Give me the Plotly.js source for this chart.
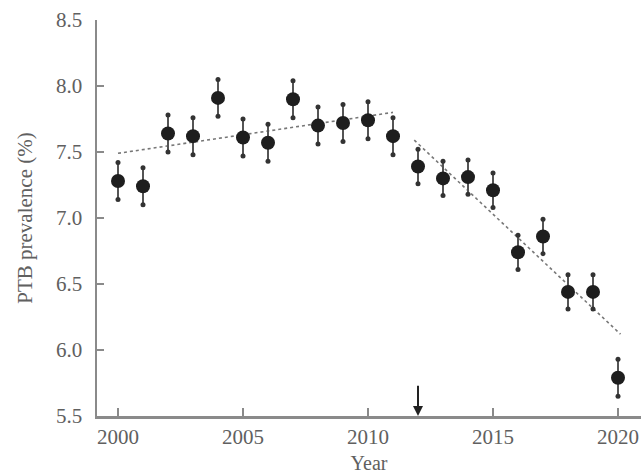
<!DOCTYPE html>
<html>
<head>
<meta charset="utf-8">
<script src="https://cdn.plot.ly/plotly-3.0.1.min.js"></script>
<style>html,body{margin:0;padding:0;background:#fff;}#chart{width:643px;height:475px;}</style>
</head>
<body>
<div id="chart"></div>
<script>
var years = [2000,2001,2002,2003,2004,2005,2006,2007,2008,2009,2010,2011,2012,2013,2014,2015,2016,2017,2018,2019,2020];
var prevalence = [7.28,7.24,7.64,7.62,7.91,7.61,7.57,7.90,7.70,7.72,7.74,7.62,7.39,7.30,7.31,7.21,6.74,6.86,6.44,6.44,5.79];
var errors = [0.14,0.14,0.14,0.14,0.14,0.14,0.14,0.14,0.14,0.14,0.14,0.14,0.13,0.13,0.13,0.13,0.13,0.13,0.13,0.13,0.14];
var trend1Years = [2000, 2011];
var trend1Values = [7.49, 7.80];
var trend2Years = [2011.85, 2020.1];
var trend2Values = [7.59, 6.12];
var breakpointYear = 2012;
var arrowTop = 5.74;
var xTicks = [2000,2005,2010,2015,2020];
var yTicks = [5.5,6.0,6.5,7.0,7.5,8.0,8.5];

var upper = prevalence.map(function(v,i){return v+errors[i];});
var lower = prevalence.map(function(v,i){return v-errors[i];});

var serif = 'Liberation Serif, Times New Roman, serif';
var textColor = '#606060';
var axisColor = '#8a8a8a';

var traces = [
  {x: trend1Years, y: trend1Values, mode:'lines', line:{color:'#777', width:1.6, dash:'dot'}, hoverinfo:'skip'},
  {x: trend2Years, y: trend2Values, mode:'lines', line:{color:'#777', width:1.6, dash:'dot'}, hoverinfo:'skip'},
  {x: years, y: prevalence, mode:'markers', marker:{color:'#1e1e1e', size:14},
   error_y:{type:'data', array: errors, visible:true, color:'#555', thickness:2, width:0}},
  {x: years.concat(years), y: upper.concat(lower), mode:'markers', marker:{color:'#333', size:5}, hoverinfo:'skip'}
];

var layout = {
  width: 643, height: 475,
  margin: {l:97, r:2, t:20, b:59},
  paper_bgcolor:'#fff', plot_bgcolor:'#fff',
  showlegend:false,
  font:{family: serif, color: textColor, size:20},
  xaxis:{
    range:[1999.16, 2020.92], tickvals: xTicks, ticktext: xTicks.map(String),
    ticks:'inside', ticklen:8, tickwidth:1.5, tickcolor: axisColor,
    showline:true, linecolor: axisColor, linewidth:2.5, showgrid:false, zeroline:false,
    tickfont:{family: serif, size:21, color:textColor},
    title:{text:'Year', font:{family: serif, size:20, color:textColor}, standoff:9}
  },
  yaxis:{
    range:[5.5, 8.5], tickvals: yTicks, ticktext: yTicks.map(function(v){return v.toFixed(1);}),
    ticks:'inside', ticklen:7, tickwidth:1.5, tickcolor: axisColor,
    ticklabelstandoff: 8,
    showline:true, linecolor: axisColor, linewidth:2.5, showgrid:false, zeroline:false,
    tickfont:{family: serif, size:21, color:textColor},
    title:{text:'PTB prevalence (%)', font:{family: serif, size:21, color:textColor}, standoff:18}
  },
  annotations:[{
    x: breakpointYear, y: 5.5, xref:'x', yref:'y',
    ax: breakpointYear, ay: arrowTop, axref:'x', ayref:'y',
    showarrow:true, arrowhead:2, arrowsize:1, arrowwidth:2, arrowcolor:'#222', text:''
  }]
};

Plotly.newPlot('chart', traces, layout, {displayModeBar:false, staticPlot:true});
</script>
</body>
</html>
